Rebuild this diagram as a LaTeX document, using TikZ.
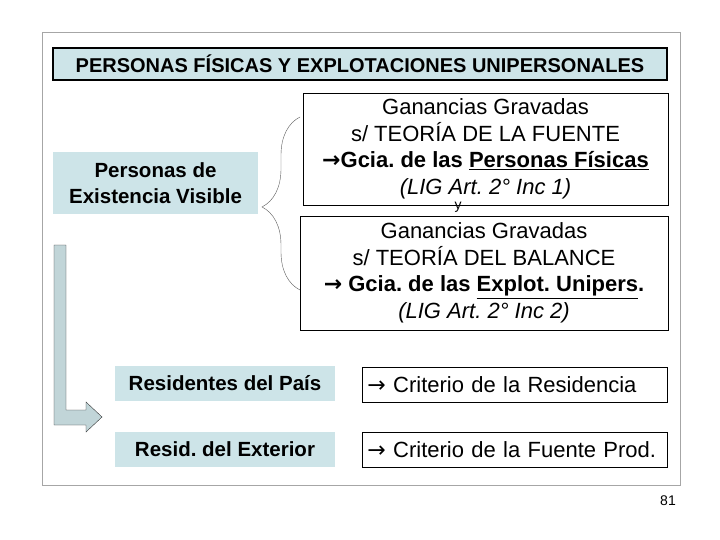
\documentclass[tikz,border=0pt]{standalone}
\usepackage{fontspec}
\setmainfont{Liberation Sans}
\newfontfamily\arrfont{DejaVu Sans}
\usetikzlibrary{decorations.pathreplacing,shapes.arrows}
\definecolor{lb}{HTML}{CDE4E8}
\newcommand{\rarr}{{\arrfont →}}
\frenchspacing
\tikzset{
 bluebox/.style={fill=lb,draw=none,inner sep=0pt,align=center,font=\bfseries\fontsize{20.5}{26}\selectfont},
 whitebox/.style={draw,thick,fill=white,inner sep=0pt,align=center,font=\fontsize{22}{26.5}\selectfont},
}
\begin{document}
\begin{tikzpicture}[x=1pt,y=-1pt]
\useasboundingbox (0,0) rectangle (720,540);
\draw[gray!70] (42,32) rectangle (680,485);
\node[draw,line width=1.6pt,fill=lb,minimum width=614,minimum height=32,inner sep=0pt,font=\bfseries\fontsize{20}{22}\selectfont] (title) at (360,64) {PERSONAS FÍSICAS Y EXPLOTACIONES UNIPERSONALES};
\node[bluebox,minimum width=205,minimum height=62] (pev) at (155.5,183) {Personas de\\Existencia Visible};
\node[whitebox,minimum width=365,minimum height=112] (fuente) at (485.5,149) {\raisebox{0pt}[0pt][0pt]{}Ganancias Gravadas\\s/ TEORÍA DE LA FUENTE\\\textbf{\rarr Gcia. de las \underline{Personas Físicas}}\\\textit{(LIG Art. 2° Inc 1)}};
\node[font=\fontsize{14}{14}\selectfont] (ymark) at (458,207) {y};
\node[whitebox,minimum width=368,minimum height=114] (balance) at (484,273) {Ganancias Gravadas\\s/ TEORÍA DEL BALANCE\\\textbf{\rarr{} Gcia. de las \underline{Explot. Unipers}.}\\\textit{(LIG Art. 2° Inc 2)}};
\coordinate (bt) at (300,117);
\coordinate (bb) at (300,290);
\draw[gray!70!black,decorate,decoration={brace,amplitude=38pt,aspect=0.48}] (bb) -- (bt);
\node[bluebox,minimum width=220,minimum height=35] (rp) at (225,383) {Residentes del País};
\node[bluebox,minimum width=220,minimum height=35] (re) at (225,449) {Resid. del Exterior};
\node[whitebox,minimum width=305,minimum height=35,anchor=west,text width=295,align=left] (cr) at (362,384.5) {\rarr{} Criterio de la Residencia};
\node[whitebox,minimum width=305,minimum height=35,anchor=west,text width=295,align=left] (cf) at (362,450) {\rarr{} Criterio de la Fuente Prod.};
\coordinate (arrtop) at (60,245);
\coordinate (arrtip) at (102,417);
\draw[fill=lb!85!gray,draw=black!80] (54,245) -- (66,245) -- (66,410) -- (86,410) -- (86,402) -- (arrtip) -- (86,432) -- (86,425) -- (54,425) -- cycle;
\node[font=\fontsize{14}{16}\selectfont] (pn) at (668,501) {81};
\end{tikzpicture}
\end{document}
